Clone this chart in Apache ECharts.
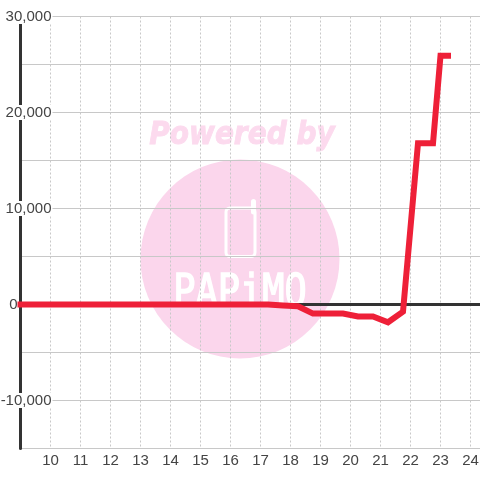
<!DOCTYPE html>
<html>
<head>
<meta charset="utf-8">
<style>html,body{margin:0;padding:0;background:#fff}#c{width:480px;height:480px}</style>
<script src="https://cdn.jsdelivr.net/npm/echarts@6/dist/echarts.min.js"></script>
</head>
<body>
<div id="c"></div>
<script>
const hours = [9,9.25,9.75,10.25,10.75,11.25,11.75,12.25,12.75,13.25,13.75,14.25,14.75,15.25,15.75,16.25,16.75,17.25,17.75,18.25,18.75,19.25,19.75,20.25,20.75,21.25,21.75,22.25,22.75,23,23.25];
const values = [0,0,0,0,0,0,0,0,0,0,0,0,0,0,0,0,0,0,-100,-180,-950,-950,-950,-1250,-1250,-1850,-750,16800,16800,25900,25900];
const watermarkTop = 'Powered by';
const watermarkBrand = 'PAPiMO';
const chart = echarts.init(document.getElementById('c'), null, {renderer:'canvas'});
const lineData = hours.map((h,i)=>[h,values[i]]);
const pink = '#fbd6ec';
chart.setOption({
  animation:false,
  backgroundColor:'#fff',
  grid:{left:20.5,right:0,top:16.5,bottom:31.5,containLabel:false,outerBoundsMode:'none'},
  xAxis:[{
    type:'value',min:9,max:24.3167,interval:1,position:'bottom',
    axisLine:{show:false,onZero:false},axisTick:{show:false},
    axisLabel:{color:'#444',fontFamily:'Liberation Sans',fontSize:15,margin:5,showMinLabel:false,showMaxLabel:false,hideOverlap:false,formatter:v=>Number.isInteger(v)?String(v):''},
    splitLine:{show:true,showMinLine:false,showMaxLine:false,lineStyle:{color:'#c8c8c8',type:[2,2],width:1}}
  },{
    type:'value',min:9,max:24.3167,interval:1,position:'bottom',
    axisLine:{show:true,onZero:true,onZeroAxisIndex:0,lineStyle:{color:'#333',width:3}},
    axisTick:{show:false},axisLabel:{show:false},splitLine:{show:false}
  }],
  yAxis:{
    type:'value',min:-15000,max:30000,interval:5000,
    axisLine:{show:true,onZero:false,lineStyle:{color:'#333',width:3}},
    axisTick:{show:false},
    axisLabel:{inside:true,align:'right',margin:32,color:'#444',fontFamily:'Liberation Sans',fontSize:15,
      showMinLabel:false,
      formatter:v=>v===0?'{z|0}':(v%10000===0?'{a|'+v.toLocaleString('en-US')+'}':''),
      rich:{a:{backgroundColor:'#fff',padding:[0,1,0,1],color:'#444',fontFamily:'Liberation Sans',fontSize:15},
            z:{padding:[0,35,0,0],color:'#444',fontFamily:'Liberation Sans',fontSize:15}}},
    splitLine:{show:true,lineStyle:{color:'#c8c8c8',width:1}}
  },
  graphic:{elements:[
    {type:'circle',z:-5,shape:{cx:240,cy:259,r:99.5},style:{fill:pink}},
    {type:'text',z:-5,x:242,y:136,scaleY:1.12,style:{text:watermarkTop,fill:'#fcdaee',stroke:'#fcdaee',lineWidth:0.8,font:'italic bold 28px "DejaVu Sans"',align:'center',verticalAlign:'middle'}},
    {type:'rect',z:-4,shape:{x:226,y:208,width:29,height:48.5,r:4},style:{fill:'none',stroke:'#fff',lineWidth:3}},
    {type:'line',z:-4,shape:{x1:253.5,y1:201.5,x2:253.5,y2:212},style:{stroke:'#fff',lineWidth:5,lineCap:'round'}},
    {type:'text',z:-4,x:240,y:294,scaleY:1.2,style:{text:watermarkBrand,fill:'#fff',stroke:'#fff',lineWidth:1.2,font:'37px "DejaVu Sans Mono"',align:'center',verticalAlign:'middle'}}
  ]},
  series:[{
    type:'line',data:lineData,xAxisIndex:0,yAxisIndex:0,symbol:'none',smooth:false,z:5,
    lineStyle:{color:'#ee2038',width:6,join:'miter',cap:'square'},clip:false
  }]
});
</script>
</body>
</html>
